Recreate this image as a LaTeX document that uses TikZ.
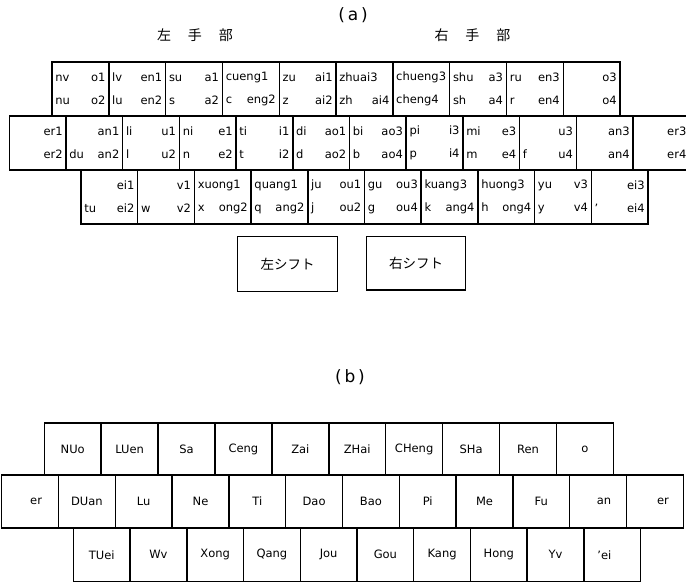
\documentclass[tikz,border=0pt]{standalone}
\usepackage{fontspec}
\setmainfont{DejaVu Sans}
\newfontfamily\jpfont{Noto Sans CJK JP}
\newcommand{\pushr}{\hspace*{\fill}}
\tikzset{
  keyline/.style={draw=black, line width=1.4pt},
  akey/.style={keyline, rectangle, minimum width=56.8pt, minimum height=54pt, text width=50pt, inner xsep=3.4pt, inner ysep=0pt, align=left, font=\fontsize{11.5}{23}\selectfont},
  bkey/.style={keyline, rectangle, minimum width=56.8pt, minimum height=53pt, inner sep=0pt, font=\fontsize{11.5}{14}\selectfont},
  shiftkey/.style={keyline, rectangle, minimum width=99.6pt, minimum height=55pt, inner sep=0pt, font=\jpfont\fontsize{13.5}{15}\selectfont},
  title/.style={font=\fontsize{17}{19}\selectfont, inner sep=0pt},
  hand/.style={font=\jpfont\fontsize{14}{16}\selectfont, inner sep=0pt}
}
\begin{document}
\begin{tikzpicture}[x=1pt,y=-1pt]
\clip (0,0) rectangle (686,583);
\fill[white] (0,0) rectangle (686,583);
% ---- (a) ----
\node[title] (capa) at (353,15) {(\,a\,)};
\node[hand] (lhand) at (195,35) {左\hspace{17pt}手\hspace{17pt}部};
\node[hand] (rhand) at (472.5,35) {右\hspace{17pt}手\hspace{17pt}部};
\foreach \ttop/\tbot [count=\i from 0] in {
 {nv \pushr o1}/{nu \pushr o2},
 {lv \pushr en1}/{lu \pushr en2},
 {su \pushr a1}/{s \pushr a2},
 {cueng1}/{c \pushr eng2},
 {zu \pushr ai1}/{z \pushr ai2},
 {zhuai3}/{zh \pushr ai4},
 {chueng3}/{cheng4},
 {shu \pushr a3}/{sh \pushr a4},
 {ru \pushr en3}/{r \pushr en4},
 {\pushr o3\hspace*{12pt}}/{\pushr o4\hspace*{12pt}}}
 \node[akey] (ra\i) at (52+28.4+\i*56.8, 89) {\ttop\\\tbot};
\foreach \ttop/\tbot [count=\i from 0] in {
 {\pushr er1}/{\pushr er2},
 {\pushr an1}/{du \pushr an2},
 {li \pushr u1}/{l \pushr u2},
 {ni \pushr e1}/{n \pushr e2},
 {ti \pushr i1}/{t \pushr i2},
 {di \pushr ao1}/{d \pushr ao2},
 {bi \pushr ao3}/{b \pushr ao4},
 {pi \pushr i3}/{p \pushr i4},
 {mi \pushr e3}/{m \pushr e4},
 {\pushr u3}/{f \pushr u4},
 {\pushr an3}/{\pushr an4},
 {\pushr er3\hspace*{13pt}}/{\pushr er4\hspace*{13pt}}}
 \node[akey] (rb\i) at (9.3+28.35+\i*56.7, 143) {\ttop\\\tbot};
\foreach \ttop/\tbot [count=\i from 0] in {
 {\pushr ei1}/{tu \pushr ei2},
 {\pushr v1}/{w \pushr v2},
 {xuong1}/{x \pushr ong2},
 {quang1}/{q \pushr ang2},
 {ju \pushr ou1}/{j \pushr ou2},
 {gu \pushr ou3}/{g \pushr ou4},
 {kuang3}/{k \pushr ang4},
 {huong3}/{h \pushr ong4},
 {yu \pushr v3}/{y \pushr v4},
 {\pushr ei3}/{' \pushr ei4}}
 \node[akey] (rc\i) at (81+28.35+\i*56.7, 197) {\ttop\\\tbot};
\node[shiftkey] (lshift) at (287.5,264.2) {左シフト};
\node[shiftkey, minimum width=99pt, minimum height=53.3pt] (rshift) at (416.2,263.4) {右シフト};
% ---- (b) ----
\node[title] (capb) at (350,377) {(\,b\,)};
\foreach \lab [count=\i from 0] in {NUo, LUen, Sa, Ceng, Zai, ZHai, CHeng, SHa, Ren, o}
 \node[bkey, minimum height=52pt] (ba\i) at (44.3+28.45+\i*56.9, 449) {\lab};
\foreach \lab [count=\i from 0] in {{\hspace*{12pt}er}, DUan, Lu, Ne, Ti, Dao, Bao, Pi, Me, Fu, {\hspace*{12pt}an}, {\hspace*{16pt}er}}
 \node[bkey] (bb\i) at (1.7+28.4+\i*56.8, 501.5) {\lab};
\foreach \lab [count=\i from 0] in {TUei, Wv, Xong, Qang, Jou, Gou, Kang, Hong, Yv, {'ei\hspace*{16pt}}}
 \node[bkey, minimum height=53.5pt] (bc\i) at (73.3+28.37+\i*56.74, 554.75) {\lab};
\end{tikzpicture}
\end{document}
